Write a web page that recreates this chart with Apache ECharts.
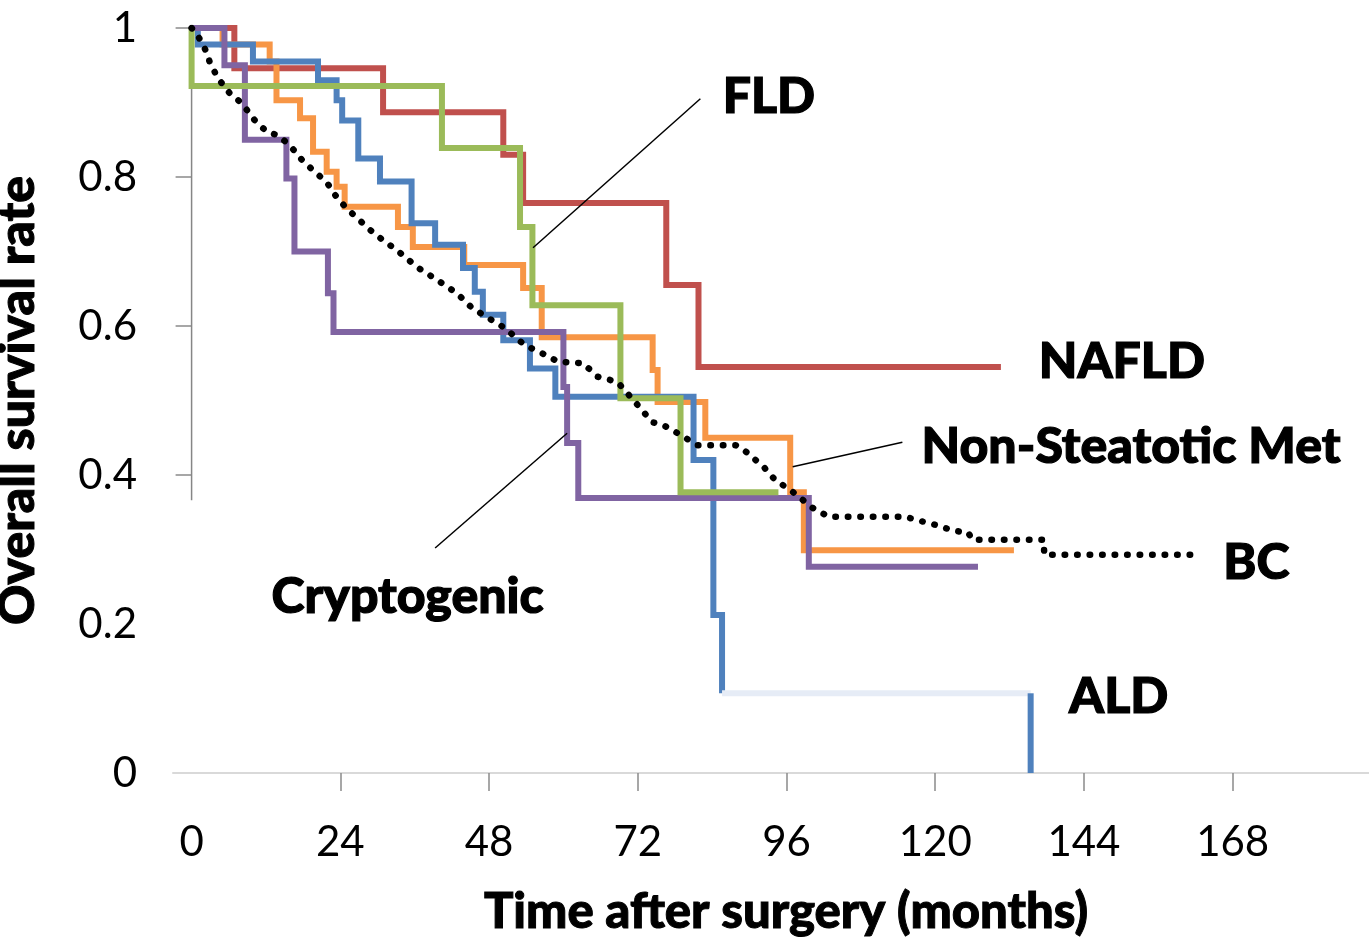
<!DOCTYPE html>
<html>
<head>
<meta charset="utf-8">
<script src="https://cdn.jsdelivr.net/npm/echarts@6/dist/echarts.min.js"></script>
<style>
html,body{margin:0;padding:0;background:#fff;}
#chart{width:1369px;height:942px;}
</style>
</head>
<body>
<div id="chart"></div>
<script>
// ---- data (months, survival rate) ----
const xTicks = [0, 24, 48, 72, 96, 120, 144, 168];
const yTicks = [0, 0.2, 0.4, 0.6, 0.8, 1];

const nafld = [[0,1],[6.9,0.946],[30.9,0.887],[50.3,0.830],[53.5,0.765],[76.6,0.655],[81.8,0.545],[130.6,0.545]];
const fld = [[0,1],[0,0.922],[40.4,0.839],[53,0.733],[55,0.628],[69.2,0.503],[78.9,0.377],[94.7,0.377]];
const ald = [[0,1],[1,0.978],[9.9,0.955],[20.4,0.93],[23.4,0.903],[24.3,0.876],[26.9,0.825],[30.4,0.794],[35.5,0.738],[39.3,0.709],[43.8,0.678],[45.7,0.646],[47,0.615],[50.3,0.581],[54.6,0.543],[58.7,0.505],[81,0.42],[84.2,0.212],[85.6,0.107]];
const aldFaded = [[85.6,0.107],[135.4,0.107]];
const aldTail = [[135.4,0.107],[135.4,0]];
const nonSteatotic = [[0,1],[5,0.978],[12.6,0.955],[13.7,0.903],[17.5,0.879],[19.6,0.834],[21.8,0.807],[23.4,0.787],[24.7,0.76],[33.3,0.733],[35.7,0.706],[44,0.682],[53.5,0.651],[56.5,0.585],[74.4,0.541],[75.2,0.498],[82.9,0.45],[96.6,0.377],[98.8,0.299],[132.7,0.299]];
const cryptogenic = [[0,1],[5.3,0.95],[8.6,0.85],[15.3,0.798],[16.6,0.7],[22,0.644],[22.9,0.592],[60,0.518],[60.6,0.443],[62.4,0.369],[99.6,0.277],[126.9,0.277]];
const bc = [[0,1],[1,0.99],[2.4,0.968],[2.9,0.955],[4.2,0.933],[6.1,0.913],[8.1,0.899],[10.2,0.876],[12.1,0.861],[13.9,0.856],[15.8,0.843],[17.8,0.823],[19.6,0.809],[21.8,0.793],[23.4,0.773],[25,0.758],[26.7,0.745],[28.8,0.729],[30.9,0.715],[33.1,0.702],[36.4,0.679],[39.6,0.662],[42.8,0.644],[45.3,0.624],[49,0.605],[50.6,0.597],[53.8,0.574],[56.2,0.565],[59.2,0.552],[63.2,0.55],[65.5,0.532],[68.7,0.525],[72.4,0.49],[74.3,0.471],[76.1,0.467],[78.9,0.454],[81.6,0.44],[87.8,0.44],[89.5,0.431],[92.3,0.411],[94.2,0.393],[96.6,0.38],[100.2,0.356],[102.8,0.344],[115.2,0.344],[116.8,0.34],[120.1,0.333],[123,0.325],[125.3,0.323],[126,0.313],[137.5,0.313],[137.6,0.293],[161.8,0.293]];

// ---- annotations (anchor points in data units) ----
const labelNames = ['FLD', 'NAFLD', 'Non-Steatotic Met', 'BC', 'Cryptogenic', 'ALD'];
const labelAnchors = [[85.7,0.907],[136.7,0.552],[117.8,0.438],[166.5,0.282],[12.9,0.236],[141.6,0.102]];
const leaderFLD = [[55.1,0.705],[82.1,0.905]];
const leaderNonSteatotic = [[97.0,0.411],[114.7,0.444]];
const leaderCryptogenic = [[60.6,0.456],[39.3,0.302]];
const yAxisLineSpan = [[0,1],[0,0.366]];

const FONT = 'Lato, "Open Sans", sans-serif';

function stepSeries(name, data, color, z) {
  return {
    name, type: 'line', data, step: 'end', showSymbol: false, symbol: 'none',
    lineStyle: { color, width: 6, join: 'miter' }, z, silent: true
  };
}
function plainLine(name, data, color, width, z) {
  return {
    name, type: 'line', data, showSymbol: false, symbol: 'none',
    lineStyle: { color, width }, z, silent: true
  };
}

const chart = echarts.init(document.getElementById('chart'), null, { renderer: 'canvas' });
chart.setOption({
  animation: false,
  backgroundColor: '#fff',
  grid: { left: 173, right: 0, top: 28, bottom: 169, containLabel: false, outerBoundsMode: 'none' },
  xAxis: {
    type: 'value', min: -3, max: 190,
    name: 'Time after surgery (months)',
    nameLocation: 'middle', nameGap: 115,
    nameTextStyle: { fontFamily: FONT, fontWeight: 900, fontSize: 49, color: '#000', padding: [0, 0, 0, 30],
      textBorderColor: '#000', textBorderWidth: 1 },
    axisLine: { show: true, lineStyle: { color: '#d9d9d9', width: 2 } },
    axisTick: { show: true, length: 18, lineStyle: { color: '#8a8a8a', width: 1.5 }, customValues: xTicks.slice(1) },
    axisLabel: { customValues: xTicks, margin: 48, fontFamily: FONT, fontSize: 42, color: '#000' },
    splitLine: { show: false }
  },
  yAxis: {
    type: 'value', min: 0, max: 1, interval: 0.2,
    name: 'Overall survival rate',
    nameLocation: 'middle', nameGap: 130, nameRotate: 90,
    nameTextStyle: { fontFamily: FONT, fontWeight: 900, fontSize: 50, color: '#000',
      textBorderColor: '#000', textBorderWidth: 1 },
    axisLine: { show: true, onZero: true, lineStyle: { color: 'rgba(0,0,0,0)', width: 1 } },
    axisTick: { show: true, length: 16, lineStyle: { color: '#8a8a8a', width: 1.5 }, customValues: [0.4, 0.6, 0.8, 1] },
    axisLabel: { margin: 36, fontFamily: FONT, fontSize: 42, color: '#000',
      customValues: yTicks,
      formatter: v => (v === 0 || v === 1) ? String(v) : v.toFixed(1) },
    splitLine: { show: false }
  },
  series: [
    plainLine('yAxisLine', yAxisLineSpan, '#868686', 1.5, 1),
    stepSeries('NAFLD', nafld, '#C0504D', 2),
    stepSeries('Non-Steatotic Met', nonSteatotic, '#F79646', 3),
    stepSeries('ALD', ald, '#4F81BD', 4),
    plainLine('ALD faded', aldFaded, '#e6ecf6', 6, 4),
    plainLine('ALD tail', aldTail, '#4F81BD', 6, 4),
    stepSeries('Cryptogenic', cryptogenic, '#8064A2', 5),
    stepSeries('FLD', fld, '#9BBB59', 6),
    {
      name: 'BC', type: 'line', data: bc, showSymbol: false, symbol: 'none', z: 7, silent: true,
      lineStyle: { color: '#000', width: 6.5, type: [0.5, 12], cap: 'round' }
    },
    plainLine('leaderFLD', leaderFLD, '#000', 1.5, 8),
    plainLine('leaderNonSteatotic', leaderNonSteatotic, '#000', 1.5, 8),
    plainLine('leaderCryptogenic', leaderCryptogenic, '#000', 1.5, 8),
    {
      name: 'labels', type: 'scatter', symbolSize: 0, z: 9, silent: true,
      itemStyle: { opacity: 1, color: '#000' },
      data: labelNames.map((n, i) => ({ name: n, value: labelAnchors[i] })),
      label: {
        show: true, position: 'right', distance: 0, formatter: p => p.name, opacity: 1,
        fontFamily: FONT, fontWeight: 900, fontSize: 50, color: '#000', align: 'left', verticalAlign: 'middle',
        textBorderColor: '#000', textBorderWidth: 1.2
      }
    }
  ]
});
</script>
</body>
</html>
